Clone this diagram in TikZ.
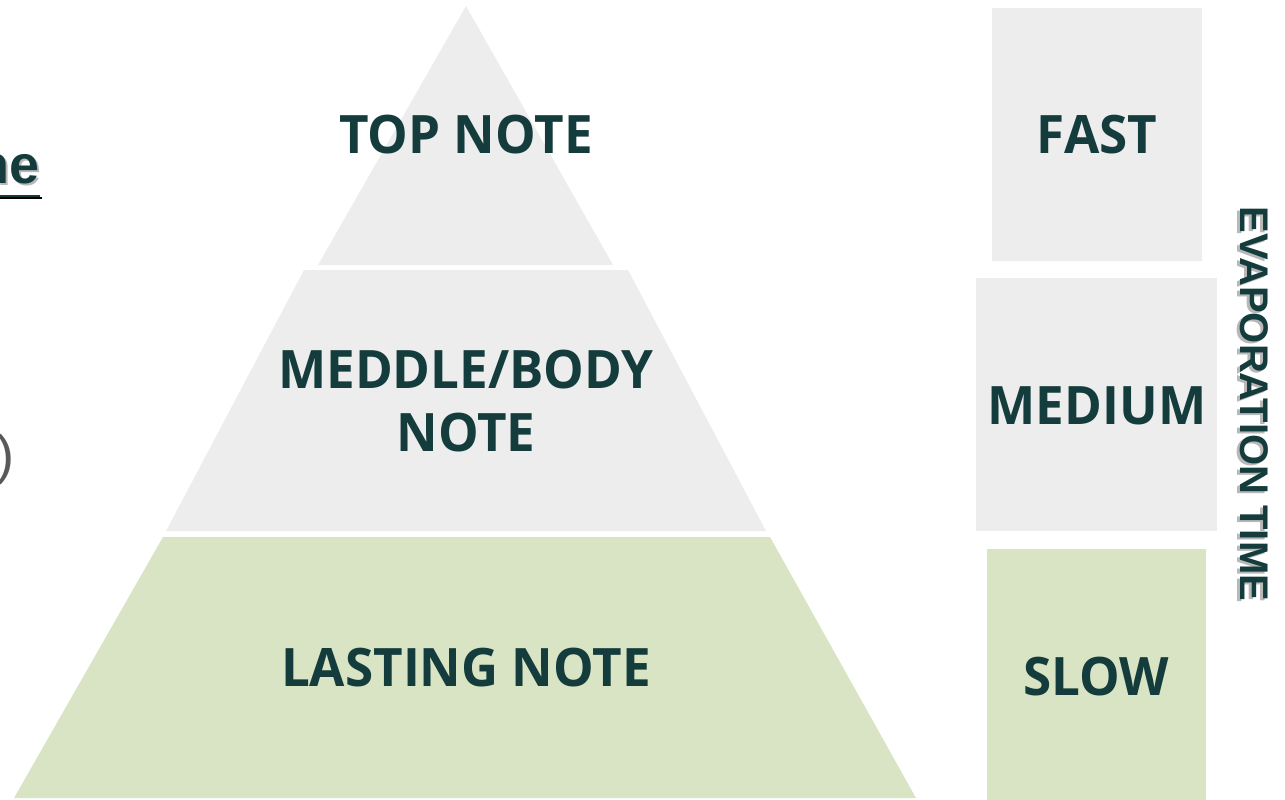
\documentclass[tikz,border=0pt]{standalone}
\usepackage{fontspec}
\newfontfamily\labfont{Open Sans}[FakeStretch=0.965]
\newfontfamily\arialfont{Liberation Sans}
\definecolor{ink}{HTML}{143C3C}
\definecolor{paper}{HTML}{EDEDED}
\definecolor{sage}{HTML}{D8E4C3}
\definecolor{paren}{HTML}{595959}
\definecolor{shade}{HTML}{B8B8B8}
\begin{document}
\begin{tikzpicture}[x=1pt,y=-1pt,
  lab/.style={font=\labfont\bfseries\fontsize{53}{63}\selectfont, text=ink, inner sep=0pt, align=center},
  side/.style={font=\arialfont\bfseries\fontsize{40}{40}\selectfont, inner sep=0pt, rotate=-90},
  tier/.style={fill=paper},
  tierlow/.style={fill=sage}]
\useasboundingbox (0,0) rectangle (1285,800);
% pyramid
\fill[tier] (466,6) -- (613,265) -- (318,265) -- cycle;
\fill[tier] (304,270) -- (628,270) -- (766,531) -- (166,531) -- cycle;
\fill[tierlow] (163,537) -- (770,537) -- (916,798) -- (14,798) -- cycle;
% side boxes
\fill[tier] (992,8) rectangle (1202,261);
\fill[tier] (976,278) rectangle (1217,531);
\fill[tierlow] (987,549) rectangle (1206,800);
% labels
\node[lab, anchor=base] (top) at (466,153) {TOP NOTE};
\node[lab, anchor=base] (mid) at (466,451) {MEDDLE/BODY\\NOTE};
\node[lab, anchor=base] (low) at (466,686) {LASTING NOTE};
\node[lab, anchor=base] (fast) at (1097,153) {FAST};
\node[lab, anchor=base] (medium) at (1097,424) {MEDIUM};
\node[lab, anchor=base] (slow) at (1096,695) {SLOW};
% evaporation time
\node[side, text=shade] (evapshade) at (1251,406) {EVAPORATION TIME};
\node[side, text=ink] (evap) at (1254,404) {EVAPORATION TIME};
% cut-off fragments at the left edge
\node[font=\arialfont\bfseries\fontsize{54}{54}\selectfont, text=shade, inner sep=0pt, anchor=base east] (neshade) at (42,185) {ne};
\node[font=\arialfont\bfseries\fontsize{54}{54}\selectfont, text=ink, inner sep=0pt, anchor=base east] (ne) at (40,183) {ne};
\coordinate (ulend) at (40,196);
\draw[shade, line width=1.5pt] (ne.base west |- 0,198) -- (42,198);
\draw[ink, line width=1.5pt] (ne.base west |- ulend) -- (ulend);
\node[font=\arialfont\fontsize{54}{54}\selectfont, text=paren, inner sep=0pt, anchor=base east] (paren) at (14.3,473.4) {)};
\end{tikzpicture}
\end{document}
